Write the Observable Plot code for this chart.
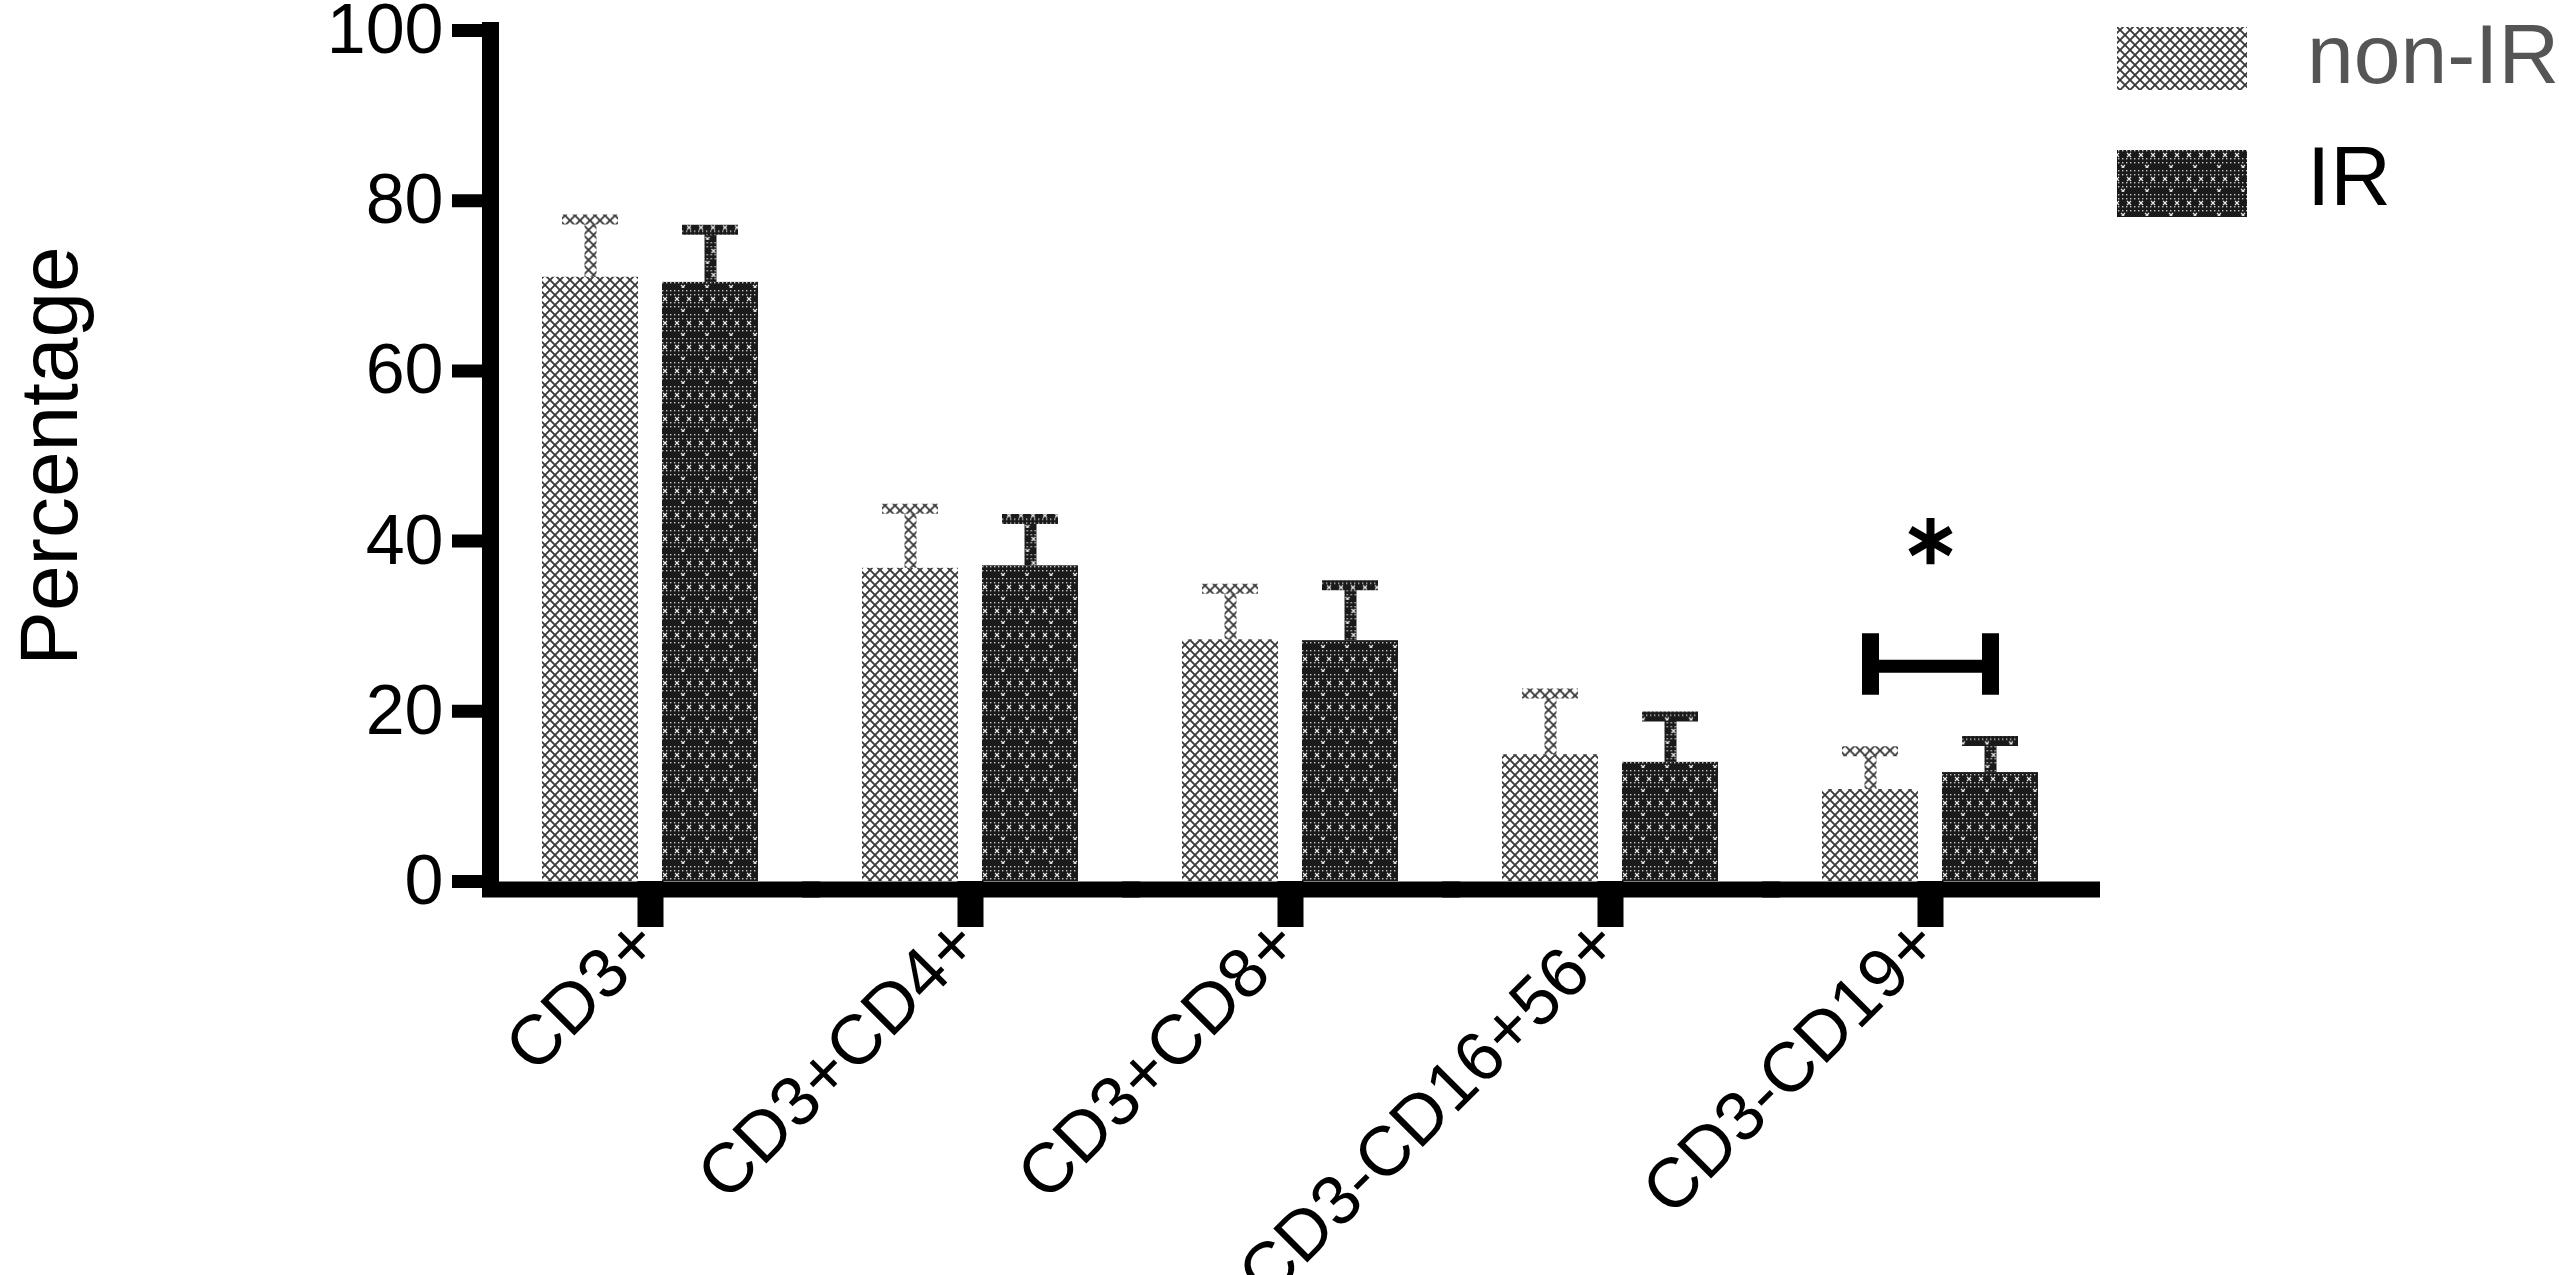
<!DOCTYPE html>
<html><head><meta charset="utf-8">
<script src="https://cdn.jsdelivr.net/npm/d3@7"></script>
<script src="https://cdn.jsdelivr.net/npm/@observablehq/plot@0.6"></script>
<style>
html,body{margin:0;padding:0;background:#fff;overflow:hidden;}
#wrap{position:relative;width:2559px;height:1275px;}
#legend{position:absolute;left:0;top:0;pointer-events:none;}
</style></head><body>
<svg width="0" height="0" style="position:absolute">
  <defs>
    <pattern id="pNon" patternUnits="userSpaceOnUse" width="10" height="10">
      <rect width="10" height="10" fill="#fff"/>
      <path d="M-1,-1L11,11M11,-1L-1,11" stroke="#3a3a3a" stroke-width="1.9"/>
      <rect x="3" y="9" width="4" height="1" fill="#fff"/>
    </pattern>
    <pattern id="pIR" patternUnits="userSpaceOnUse" width="24" height="24">
      <rect width="24" height="24" fill="#1a1a1a"/>
      <g fill="#fff" opacity="0.75">
        <rect x="2" y="2" width="1.4" height="1.4"/><rect x="6" y="2" width="1.4" height="1.4"/><rect x="10" y="2" width="1.4" height="1.4"/><rect x="14" y="2" width="1.4" height="1.4"/><rect x="18" y="2" width="1.4" height="1.4"/><rect x="22" y="2" width="1.4" height="1.4"/>
        <rect x="2" y="6" width="1.4" height="1.4"/><rect x="6" y="6" width="1.4" height="1.4"/><rect x="10" y="6" width="1.4" height="1.4"/><rect x="14" y="6" width="1.4" height="1.4"/><rect x="18" y="6" width="1.4" height="1.4"/><rect x="22" y="6" width="1.4" height="1.4"/>
        <rect x="2" y="14" width="1.4" height="1.4"/><rect x="6" y="14" width="1.4" height="1.4"/><rect x="10" y="14" width="1.4" height="1.4"/><rect x="14" y="14" width="1.4" height="1.4"/><rect x="18" y="14" width="1.4" height="1.4"/><rect x="22" y="14" width="1.4" height="1.4"/>
        <rect x="2" y="18" width="1.4" height="1.4"/><rect x="6" y="18" width="1.4" height="1.4"/><rect x="10" y="18" width="1.4" height="1.4"/><rect x="14" y="18" width="1.4" height="1.4"/><rect x="18" y="18" width="1.4" height="1.4"/><rect x="22" y="18" width="1.4" height="1.4"/>
      </g>
      <path d="M3,9L7,13M7,9L3,13M15,9L19,13M19,9L15,13M9,21L13,25M13,21L9,25" stroke="#fff" stroke-width="1.2" opacity="0.9"/>
    </pattern>
  </defs>
</svg>
<div id="wrap"></div>
<script>
// ---- data ----
const categories = ["CD3+", "CD3+CD4+", "CD3+CD8+", "CD3-CD16+56+", "CD3-CD19+"];
const groups = ["non-IR", "IR"];
const nonIRMean = [71.0, 36.8, 28.4, 14.9, 10.8];
const nonIRErr  = [6.8, 7.0, 6.0, 7.2, 4.5];
const irMean    = [70.4, 37.1, 28.3, 14.0, 12.8];
const irErr     = [6.2, 5.5, 6.5, 5.4, 3.7];
const yTicks = [0, 20, 40, 60, 80, 100];
const yLabel = "Percentage";
const yLabelAt = 50;
// significance annotation
const sigCategory = "CD3-CD19+";
const sigBracketY = 25.3;
const sigBracketCap = [21.9, 29.1];
const sigStarY = 40;

const patterns = ["url(#pNon)", "url(#pIR)"];
const rows = categories.flatMap((c, i) => [
  {cat: c, group: groups[0], value: nonIRMean[i], err: nonIRErr[i]},
  {cat: c, group: groups[1], value: irMean[i], err: irErr[i]}
]);
const bracket = [{cat: sigCategory, from: groups[0], to: groups[1], y: sigBracketY}];
const bracketEnds = groups.map(g => ({cat: sigCategory, group: g}));
const star = [{cat: sigCategory, y: sigStarY}];
const yTitle = [{cat: categories[0], text: yLabel, y: yLabelAt}];

const font = '"Liberation Sans", Arial, sans-serif';

const chart = Plot.plot({
  width: 2559, height: 1275,
  marginLeft: 490, marginRight: 469, marginTop: 30, marginBottom: 394,
  style: {fontFamily: font, fontSize: "70px", color: "#000", background: "#fff", overflow: "visible"},
  fx: {domain: categories, padding: 0, axis: null, label: null},
  x: {domain: groups, paddingInner: 0.2, paddingOuter: 0.433, axis: null, label: null},
  y: {domain: [0, 100], axis: null, label: null},
  color: {domain: groups, range: patterns},
  marks: [
    Plot.barY(rows, {fx: "cat", x: "group", y: "value", fill: "group"}),
    Plot.ruleX(rows, {fx: "cat", x: "group", y1: "value", y2: d => d.value + d.err, stroke: "group", strokeWidth: 12}),
    Plot.tickY(rows, {fx: "cat", x: "group", y: d => d.value + d.err, stroke: "group", strokeWidth: 10, insetLeft: 20, insetRight: 20}),
    Plot.ruleY([0], {stroke: "#000", strokeWidth: 16, dy: 8, insetLeft: -8, insetRight: -10}),
    Plot.frame({anchor: "left", stroke: "#000", strokeWidth: 17, strokeLinecap: "square", facetAnchor: "left"}),
    Plot.axisY({ticks: yTicks, tickSize: 38, tickPadding: 9, strokeWidth: 13, fontSize: 70, label: null}),
    Plot.axisFx({anchor: "bottom", tickSize: 46, strokeWidth: 26, tickFormat: () => "", label: null}),
    Plot.text(categories, {fx: d => d, text: d => d, frameAnchor: "bottom", rotate: -45, textAnchor: "end", lineAnchor: "middle", dx: -4, dy: 50, fontSize: 70, fill: "#000"}),
    Plot.text(yTitle, {fx: "cat", y: "y", text: "text", frameAnchor: "left", rotate: -90, textAnchor: "middle", lineAnchor: "middle", dx: -440, fontSize: 82, fill: "#000"}),
    Plot.link(bracket, {fx: "cat", x1: "from", x2: "to", y1: "y", y2: "y", stroke: "#000", strokeWidth: 13}),
    Plot.ruleX(bracketEnds, {fx: "cat", x: "group", y1: () => sigBracketCap[0], y2: () => sigBracketCap[1], stroke: "#000", strokeWidth: 17}),
    Plot.dot(star, {fx: "cat", y: "y", symbol: "asterisk", r: 22, stroke: "#000", strokeWidth: 8})
  ]
});
const wrap = document.getElementById("wrap");
wrap.appendChild(chart);

// legend (outside the plotting frame, top right)
const ns = "http://www.w3.org/2000/svg";
const leg = document.createElementNS(ns, "svg");
leg.setAttribute("id", "legend");
leg.setAttribute("width", 2559);
leg.setAttribute("height", 1275);
const legendItems = [
  {label: groups[0], fill: patterns[0], top: 27, h: 63, baseline: 83, color: "#555"},
  {label: groups[1], fill: patterns[1], top: 150, h: 67, baseline: 205, color: "#000"}
];
for (const it of legendItems) {
  const r = document.createElementNS(ns, "rect");
  r.setAttribute("x", 2117); r.setAttribute("y", it.top);
  r.setAttribute("width", 130); r.setAttribute("height", it.h);
  r.setAttribute("fill", it.fill);
  leg.appendChild(r);
  const t = document.createElementNS(ns, "text");
  t.setAttribute("x", 2307); t.setAttribute("y", it.baseline);
  t.setAttribute("font-family", font); t.setAttribute("font-size", 84);
  t.setAttribute("fill", it.color);
  t.textContent = it.label;
  leg.appendChild(t);
}
wrap.appendChild(leg);
</script>
</body></html>
